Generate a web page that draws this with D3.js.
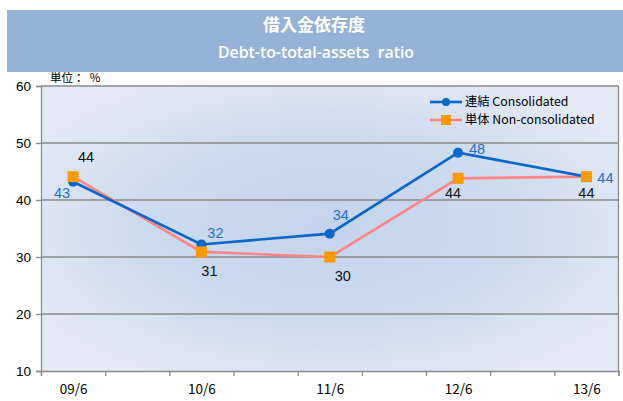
<!DOCTYPE html>
<html><head><meta charset="utf-8">
<script src="https://cdn.jsdelivr.net/npm/d3@7"></script>
<style>
html,body{margin:0;padding:0;background:#fff;}
svg{display:block;font-family:"Noto Sans CJK JP","Noto Sans",sans-serif;}
</style></head>
<body><svg id="c" width="623" height="401"></svg>
<script>
const categories = ["09/6","10/6","11/6","12/6","13/6"];
const consolidated = [43.2, 32.2, 34.1, 48.3, 44.1];
const nonConsolidated = [44.1, 30.9, 30.0, 43.8, 44.1];
const consolidatedLabels = ["43","32","34","48","44"];
const nonConsolidatedLabels = ["44","31","30","44","44"];
const yTicks = [10,20,30,40,50,60];
const titleJa = "借入金依存度";
const titleEn = "Debt-to-total-assets\u00a0\u00a0ratio";
const unitLabel = "単位：\u00a0\u00a0%";
const legendNames = ["連結 Consolidated","単体 Non-consolidated"];

// label offsets (styling)
const consOff = [[-11,11],[14,-12],[11,-19],[19,-4],[19,1]];
const nonOff = [[13,-20],[8,19],[13,19],[-5,15],[0,16]];

const svg = d3.select("#c");
const L=41, R=618.5, T=86, B=371;

// title band
svg.append("rect").attr("x",7).attr("y",10).attr("width",616).attr("height",62).attr("fill","#95b3d7");
svg.append("text").attr("x",314).attr("y",31).attr("text-anchor","middle").attr("fill","#fff")
  .attr("font-size",17).attr("font-weight","bold").text(titleJa);
svg.append("text").attr("x",316).attr("y",58).attr("text-anchor","middle").attr("fill","#fff")
  .attr("font-size",15.5).attr("font-weight",600).attr("font-family","'Open Sans',sans-serif")
  .attr("textLength",196).attr("lengthAdjust","spacingAndGlyphs").text(titleEn);

const x = d3.scaleLinear().domain([-0.25, 4.25]).range([L, R]);
const y = d3.scaleLinear().domain([10, 60]).range([B, T]);

// gradient background
const defs = svg.append("defs");
const rg = defs.append("radialGradient").attr("id","bg").attr("cx","50%").attr("cy","50%").attr("r","60%");
rg.append("stop").attr("offset","0%").attr("stop-color","#c4d4ec");
rg.append("stop").attr("offset","55%").attr("stop-color","#cddbef");
rg.append("stop").attr("offset","100%").attr("stop-color","#e3eaf5");
svg.append("rect").attr("x",L).attr("y",T).attr("width",R-L).attr("height",B-T).attr("fill","url(#bg)");

// gridlines
svg.append("g").selectAll("line").data(yTicks.filter(d=>d>10)).join("line")
  .attr("x1",L).attr("x2",R).attr("y1",d=>y(d)).attr("y2",d=>y(d))
  .attr("stroke","#8a8a8a").attr("stroke-width",1.3);
svg.append("line").attr("x1",R).attr("x2",R).attr("y1",T).attr("y2",B).attr("stroke","#8a8a8a").attr("stroke-width",1.3);

// y axis
const ya = svg.append("g").attr("transform",`translate(${L},0)`)
  .call(d3.axisLeft(y).tickValues(yTicks).tickSize(5).tickPadding(5));
ya.select(".domain").attr("stroke","#8a8a8a").attr("stroke-width",1.3);
ya.selectAll(".tick line").attr("stroke","#8a8a8a").attr("stroke-width",1.3);
ya.selectAll("text").attr("font-size",13.5).attr("fill","#000").attr("font-family","'Liberation Sans',Arial,sans-serif").attr("dy","0.35em");

// x axis
const xa = svg.append("g").attr("transform",`translate(0,${B})`)
  .call(d3.axisBottom(x).tickValues(d3.range(-0.25,4.26,0.5)).tickSize(5).tickFormat(""));
xa.select(".domain").attr("stroke","#8a8a8a").attr("stroke-width",1.3);
xa.selectAll(".tick line").attr("stroke","#8a8a8a").attr("stroke-width",1.3);
const xl = svg.append("g").attr("transform",`translate(0,${B})`)
  .call(d3.axisBottom(x).tickValues(d3.range(0,5)).tickSize(0).tickPadding(13).tickFormat(i=>categories[i]));
xl.select(".domain").remove();
xl.selectAll("text").attr("font-size",13.5).attr("fill","#000").attr("font-family","'Noto Sans CJK JP',sans-serif");

// unit label
svg.append("text").attr("x",50).attr("y",82).attr("font-size",11.5).attr("fill","#000").text(unitLabel);

const line = d3.line().x((d,i)=>x(i)).y(d=>y(d));
svg.append("path").datum(nonConsolidated).attr("d",line).attr("fill","none").attr("stroke","#ff8585").attr("stroke-width",2.6);
svg.append("path").datum(consolidated).attr("d",line).attr("fill","none").attr("stroke","#0a66c8").attr("stroke-width",2.6);
svg.append("g").selectAll("circle").data(consolidated).join("circle")
  .attr("cx",(d,i)=>x(i)).attr("cy",d=>y(d)).attr("r",5).attr("fill","#0a66c8");
svg.append("g").selectAll("rect").data(nonConsolidated).join("rect")
  .attr("x",(d,i)=>x(i)-5.5).attr("y",d=>y(d)-5.5).attr("width",11).attr("height",11).attr("fill","#ff9900");

// data labels
svg.append("g").selectAll("text").data(consolidated).join("text")
  .attr("x",(d,i)=>x(i)+consOff[i][0]).attr("y",(d,i)=>y(d)+consOff[i][1]).attr("dy","0.35em")
  .attr("text-anchor","middle").attr("font-size",14.5).attr("fill","#1f6fcc")
  .attr("font-family","'Liberation Sans',Arial,sans-serif").text((d,i)=>consolidatedLabels[i]);
svg.append("g").selectAll("text").data(nonConsolidated).join("text")
  .attr("x",(d,i)=>x(i)+nonOff[i][0]).attr("y",(d,i)=>y(d)+nonOff[i][1]).attr("dy","0.35em")
  .attr("text-anchor","middle").attr("font-size",14.5).attr("fill","#111")
  .attr("font-family","'Liberation Sans',Arial,sans-serif").text((d,i)=>nonConsolidatedLabels[i]);

// legend
const lg = svg.append("g");
const ly = [102, 120];
lg.append("line").attr("x1",430).attr("x2",462).attr("y1",ly[0]).attr("y2",ly[0]).attr("stroke","#0a66c8").attr("stroke-width",2.6);
lg.append("circle").attr("cx",446).attr("cy",ly[0]).attr("r",4).attr("fill","#0a66c8");
lg.append("line").attr("x1",430).attr("x2",462).attr("y1",ly[1]).attr("y2",ly[1]).attr("stroke","#ff8585").attr("stroke-width",2.6);
lg.append("rect").attr("x",441).attr("y",ly[1]-5).attr("width",10).attr("height",10).attr("fill","#ff9900");
lg.selectAll("text").data(legendNames).join("text")
  .attr("x",465).attr("y",(d,i)=>ly[i]).attr("dy","0.35em").attr("font-size",12.3).attr("fill","#000").text(d=>d);
</script></body></html>
